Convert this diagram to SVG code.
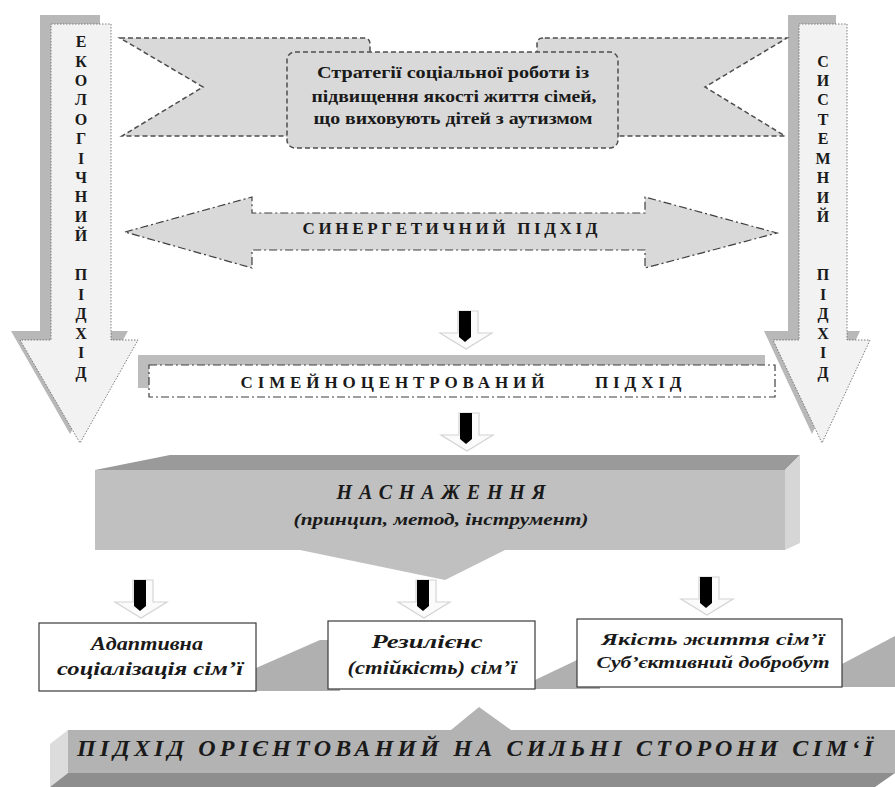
<svg xmlns="http://www.w3.org/2000/svg" xmlns:xlink="http://www.w3.org/1999/xlink" width="895" height="787" viewBox="0 0 895 787" font-family="'Liberation Serif', 'Times New Roman', 'DejaVu Serif', serif">
<style>
text{font-family:'Liberation Serif','Times New Roman','DejaVu Serif',serif}
.v{font-weight:bold;font-size:16px;text-anchor:middle;fill:#1a1a1a}
.t{font-weight:bold;text-anchor:middle;fill:#1a1a1a}
.ti{font-weight:bold;font-style:italic;text-anchor:middle;fill:#1a1a1a}
.bigarrow{fill:#f2f2f2;stroke:#6f6f6f;stroke-width:0.9;stroke-dasharray:1.5,1.5}
.bigshadow{fill:#b8b8b8}
.ribbon{fill:#d9d9d9;stroke:#4d4d4d;stroke-width:1.5;stroke-dasharray:5,3}
.dashdot{stroke:#3f3f3f;stroke-width:1.2;stroke-dasharray:8,3,2,3}
.box{fill:#ffffff;stroke:#3a3a3a;stroke-width:1.2}
</style>
<defs>
<g id="sa">
<polygon points="-7,0 13,0 13,22 27,22 1,38 -25,22 -7,22" fill="#fbfbfb" stroke="#d4d4d4" stroke-width="1.2"/>
<path d="M-6,0 H6 V26 L0,31 L-6,26 Z" fill="#000000"/>
</g>
</defs>
<rect width="895" height="787" fill="#ffffff"/>

<g id="ecological">
<polygon class="bigshadow" points="40,15 100,15 100,331 128,331 70,434 11,331 40,331"/>
<polygon class="bigarrow" points="51,24 111,24 111,340 138,340 80,443 20,340 51,340"/>
<text class="v" x="81" y="47">Е</text>
<text class="v" x="81" y="67">К</text>
<text class="v" x="81" y="86">О</text>
<text class="v" x="81" y="105">Л</text>
<text class="v" x="81" y="125">О</text>
<text class="v" x="81" y="144">Г</text>
<text class="v" x="81" y="164">І</text>
<text class="v" x="81" y="183">Ч</text>
<text class="v" x="81" y="202">Н</text>
<text class="v" x="81" y="222">И</text>
<text class="v" x="81" y="241">Й</text>
<text class="v" x="81" y="280">П</text>
<text class="v" x="81" y="300">І</text>
<text class="v" x="81" y="319">Д</text>
<text class="v" x="81" y="339">Х</text>
<text class="v" x="81" y="358">І</text>
<text class="v" x="81" y="378">Д</text>
</g>

<g id="systemic">
<polygon class="bigshadow" points="788,15 836,15 836,331 860,331 812,434 764,331 788,331"/>
<polygon class="bigarrow" points="799,24 847,24 847,340 870,340 822,443 773,340 799,340"/>
<text class="v" x="823" y="67">С</text>
<text class="v" x="823" y="86">И</text>
<text class="v" x="823" y="105">С</text>
<text class="v" x="823" y="125">Т</text>
<text class="v" x="823" y="144">Е</text>
<text class="v" x="823" y="164">М</text>
<text class="v" x="823" y="183">Н</text>
<text class="v" x="823" y="203">И</text>
<text class="v" x="823" y="222">Й</text>
<text class="v" x="823" y="280">П</text>
<text class="v" x="823" y="300">І</text>
<text class="v" x="823" y="319">Д</text>
<text class="v" x="823" y="339">Х</text>
<text class="v" x="823" y="358">І</text>
<text class="v" x="823" y="378">Д</text>
</g>

<g id="strategy">
<path class="ribbon" d="M120,38 H364 Q370,38 370,44 V136 H122 L203,87 Z"/>
<path class="ribbon" d="M543,38 Q537,38 537,44 V136 H785 L705,87 L787,38 Z"/>
<rect class="ribbon" x="287" y="52" width="331" height="96" rx="8"/>
<text class="t" font-size="17" x="453" y="78" textLength="272" lengthAdjust="spacingAndGlyphs">Стратегії соціальної роботи із</text>
<text class="t" font-size="17" x="454" y="102" textLength="285" lengthAdjust="spacingAndGlyphs">підвищення якості життя сімей,</text>
<text class="t" font-size="17" x="453" y="124" textLength="279" lengthAdjust="spacingAndGlyphs">що виховують дітей з аутизмом</text>
</g>

<g id="synergetic">
<polygon class="dashdot" fill="#d9d9d9" points="125,232 252,197 252,213 645,213 645,197 777,233 645,268 645,250 252,250 252,268"/>
<text class="t" font-size="17" x="450" y="234" textLength="295" lengthAdjust="spacing">СИНЕРГЕТИЧНИЙ ПІДХІД</text>
</g>

<g id="family-centered">
<rect x="138" y="355" width="627" height="33" fill="#bdbdbd"/>
<rect class="dashdot" x="149" y="365" width="626" height="32" fill="#ffffff"/>
<text class="t" font-size="17" x="461" y="388" textLength="441" lengthAdjust="spacing" xml:space="preserve">СІМЕЙНОЦЕНТРОВАНИЙ     ПІДХІД</text>
</g>

<g id="empowerment">
<polygon points="95,470 170,455 800,455 785,470" fill="#9a9a9a"/>
<polygon points="785,470 800,455 800,543 785,550" fill="#d6d6d6"/>
<rect x="95" y="470" width="690" height="80" fill="#c0c0c0"/>
<polygon points="300,550 505,550 445,580" fill="#c0c0c0"/>
<text class="ti" font-size="20" x="441" y="499" textLength="209" lengthAdjust="spacing">НАСНАЖЕННЯ</text>
<text class="ti" font-size="17" x="441" y="525" textLength="295" lengthAdjust="spacingAndGlyphs">(принцип, метод, інструмент)</text>
</g>

<g id="box-shadows">
<polygon points="256,668 320,640 340,640 340,691 256,691" fill="#b0b0b0"/>
<polygon points="535,680 598,650 600,650 600,689 535,689" fill="#b0b0b0"/>
<polygon points="842,664 895,636 895,687 842,687" fill="#b0b0b0"/>
</g>

<g id="adaptive">
<rect class="box" x="39" y="623" width="217" height="68"/>
<text class="ti" font-size="18" x="147" y="650" textLength="112" lengthAdjust="spacingAndGlyphs">Адаптивна</text>
<text class="ti" font-size="18" x="150" y="675" textLength="186" lengthAdjust="spacingAndGlyphs">соціалізація сім’ї</text>
</g>

<g id="resilience">
<rect class="box" x="328" y="621" width="207" height="68"/>
<text class="ti" font-size="18" x="427" y="648" textLength="111" lengthAdjust="spacingAndGlyphs">Резилієнс</text>
<text class="ti" font-size="18" x="432" y="674" textLength="169" lengthAdjust="spacingAndGlyphs">(стійкість) сім’ї</text>
</g>

<g id="quality">
<rect class="box" x="577" y="619" width="265" height="68"/>
<text class="ti" font-size="17" x="713" y="645" textLength="223" lengthAdjust="spacingAndGlyphs">Якість життя сім’ї</text>
<text class="ti" font-size="17" x="713" y="668" textLength="233" lengthAdjust="spacingAndGlyphs">Суб’єктивний добробут</text>
</g>

<g id="strengths">
<polygon points="451,730 479,707 511,730" fill="#b3b3b3"/>
<polygon points="68,730 50,744 50,787 68,773" fill="#dcdcdc"/>
<polygon points="68,773 895,773 875,787 50,787" fill="#8e8e8e"/>
<rect x="68" y="730" width="827" height="43" fill="#b3b3b3"/>
<text class="ti" font-size="24" x="475" y="756" textLength="796" lengthAdjust="spacing">ПІДХІД ОРІЄНТОВАНИЙ НА СИЛЬНІ СТОРОНИ СІМ‘Ї</text>
</g>

<g id="connectors">
<use xlink:href="#sa" transform="translate(465,311)"/>
<use xlink:href="#sa" transform="translate(466,413)"/>
<use xlink:href="#sa" transform="translate(140,580)"/>
<use xlink:href="#sa" transform="translate(423,580)"/>
<use xlink:href="#sa" transform="translate(706,577)"/>
</g>
</svg>
